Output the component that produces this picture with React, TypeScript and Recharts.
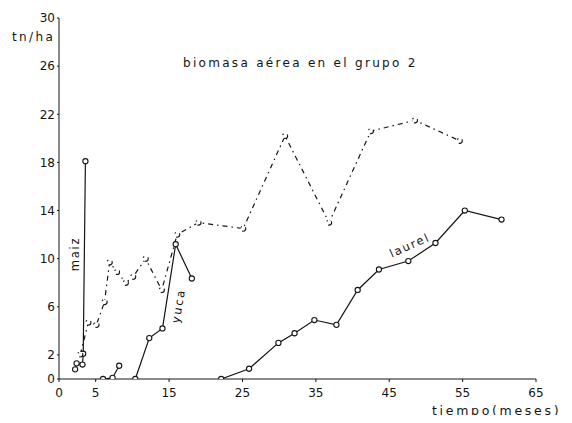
import React from "react";
import { LineChart, Line, XAxis, YAxis } from "recharts";

// ---- data ----
const maizX = [2.2, 2.4, 3.2, 3.3, 3.6];
const maizY = [0.8, 1.3, 1.2, 2.1, 18.1];

const dashedX = [2.9, 4.0, 5.1, 6.2, 6.9, 7.9, 9.1, 10.1, 11.8, 14.0, 16.1, 19.0, 25.1, 30.8, 36.8, 42.5, 48.5, 54.6];
const dashedY = [2.05, 4.7, 4.5, 6.4, 9.7, 8.9, 8.0, 8.5, 10.0, 7.4, 12.0, 13.0, 12.5, 20.2, 13.0, 20.6, 21.5, 19.8];

const smallX = [6.0, 7.3, 8.2];
const smallY = [0.0, 0.1, 1.1];

const yucaX = [10.4, 12.3, 14.1, 15.9, 18.1];
const yucaY = [0.0, 3.4, 4.2, 11.2, 8.35];

const laurelX = [22.1, 25.9, 29.9, 32.1, 34.8, 37.8, 40.7, 43.6, 47.6, 51.3, 55.3, 60.3];
const laurelY = [0.0, 0.85, 3.0, 3.8, 4.9, 4.5, 7.4, 9.1, 9.8, 11.3, 14.0, 13.25];

const xTicks = [0, 5, 15, 25, 35, 45, 55, 65];
const yTicks = [0, 2, 6, 10, 14, 18, 22, 26, 30];

const title = "biomasa aérea en el grupo 2";
const yUnit = "tn/ha";
const xTitle = "tiempo(meses)";
const labelMaiz = "maiz";
const labelYuca = "yuca";
const labelLaurel = "laurel";

const toPts = (xs: number[], ys: number[]) => xs.map((x, i) => ({ x, y: ys[i] }));

const maiz = toPts(maizX, maizY);
const dashed = toPts(dashedX, dashedY);
const small = toPts(smallX, smallY);
const yuca = toPts(yucaX, yucaY);
const laurel = toPts(laurelX, laurelY);

const FONT = "'DejaVu Sans', sans-serif";
const INK = "#141414";
const dot = { r: 2.6, fill: "#fff", stroke: INK, strokeWidth: 1.1 };

const txt: React.CSSProperties = {
  position: "absolute",
  fontFamily: FONT,
  fontSize: 11.5,
  letterSpacing: "1.8px",
  color: INK,
  whiteSpace: "nowrap",
  lineHeight: 1,
};

export default function App() {
  return (
    <div style={{ position: "relative", width: 556, height: 407 }}>
      <LineChart
        width={556}
        height={407}
        margin={{ top: 10, right: 28, bottom: 6, left: 21 }}
        style={{ fontFamily: FONT }}
      >
        <XAxis
          type="number"
          dataKey="x"
          domain={[0, 65]}
          ticks={xTicks}
          allowDataOverflow
          height={30}
          tickSize={3}
          tickMargin={6}
          stroke={INK}
          tick={{ fill: INK, fontSize: 12, fontFamily: FONT }}
        />
        <YAxis
          type="number"
          dataKey="y"
          domain={[0, 30]}
          ticks={yTicks}
          allowDataOverflow
          width={30}
          tickSize={2}
          tickMargin={2}
          stroke={INK}
          tick={{ fill: INK, fontSize: 12, fontFamily: FONT }}
        />
        <Line data={maiz} dataKey="y" stroke={INK} strokeWidth={1.2} dot={dot} isAnimationActive={false} />
        <Line data={dashed} dataKey="y" stroke={INK} strokeWidth={1.2} strokeDasharray="5 4 1.5 4" dot={dot} isAnimationActive={false} />
        <Line data={small} dataKey="y" stroke={INK} strokeWidth={1.2} dot={dot} isAnimationActive={false} />
        <Line data={yuca} dataKey="y" stroke={INK} strokeWidth={1.2} dot={dot} isAnimationActive={false} />
        <Line data={laurel} dataKey="y" stroke={INK} strokeWidth={1.2} dot={dot} isAnimationActive={false} />
      </LineChart>
      <div style={{ ...txt, left: 175, top: 49, fontSize: 12, letterSpacing: "2.3px" }}>{title}</div>
      <div style={{ ...txt, left: 4, top: 23, fontSize: 12, letterSpacing: "2.4px" }}>{yUnit}</div>
      <div style={{ ...txt, left: 424, top: 397, fontSize: 12.5, letterSpacing: "2.7px" }}>{xTitle}</div>
      <div style={{ ...txt, left: 68, top: 246, transform: "translate(-50%,-50%) rotate(-90deg)" }}>{labelMaiz}</div>
      <div style={{ ...txt, left: 171, top: 298, transform: "translate(-50%,-50%) rotate(-80deg)" }}>{labelYuca}</div>
      <div style={{ ...txt, left: 402, top: 238, transform: "translate(-50%,-50%) rotate(-24deg)" }}>{labelLaurel}</div>
    </div>
  );
}
